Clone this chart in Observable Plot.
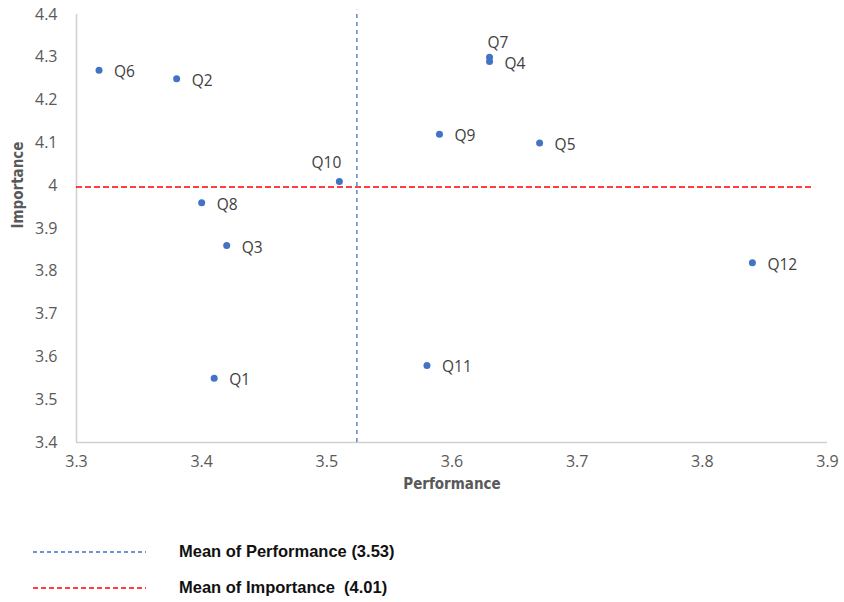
<!DOCTYPE html>
<html>
<head>
<meta charset="utf-8">
<script src="https://cdn.jsdelivr.net/npm/d3@7"></script>
<script src="https://cdn.jsdelivr.net/npm/@observablehq/plot@0.6"></script>
<style>
  body { margin: 0; background: #fff; font-family: "Liberation Sans", Arial, sans-serif; }
  #chart { width: 844px; height: 500px; }
  .legend { position: relative; height: 102px; }
  .row { position: absolute; left: 0; height: 20px; width: 844px; }
  .sample { position: absolute; left: 33px; top: 0; }
  .label { position: absolute; left: 179px; top: 0px; font-weight: bold; font-size: 16.5px; color: #111; white-space: pre; }
</style>
</head>
<body>
<div id="chart"></div>
<div class="legend" id="legend"></div>
<script>
const questions   = ["Q1","Q2","Q3","Q4","Q5","Q6","Q7","Q8","Q9","Q10","Q11","Q12"];
const performance = [3.41,3.38,3.42,3.63,3.67,3.318,3.63,3.40,3.59,3.51,3.58,3.84];
const importance  = [3.55,4.25,3.86,4.29,4.10,4.27,4.30,3.96,4.12,4.01,3.58,3.82];
const xTicks = [3.3,3.4,3.5,3.6,3.7,3.8,3.9];
const yTicks = [3.4,3.5,3.6,3.7,3.8,3.9,4,4.1,4.2,4.3,4.4];
const meanPerformanceLine = 3.524;
const meanImportanceLine = 3.997;
const legendLabels = ["Mean of Performance (3.53)", "Mean of Importance  (4.01)"];
const legendColors = ["#4472C4", "#FF0000"];
const legendDash = ["4,3", "5,3"];

const data = questions.map((q, i) => ({q, x: performance[i], y: importance[i]}));
const aboveLabels = ["Q7", "Q10"];
const labelFont = "'Open Sans', sans-serif";

const plot = Plot.plot({
  width: 844,
  height: 500,
  marginLeft: 76,
  marginRight: 17,
  marginTop: 14,
  marginBottom: 58,
  style: {fontFamily: "'Open Sans', sans-serif", fontSize: "16px", color: "#595959", background: "#fff"},
  x: {domain: [3.3, 3.9]},
  y: {domain: [3.4, 4.4]},
  marks: [
    Plot.axisX({ticks: xTicks, tickSize: 0, tickPadding: 13, tickFormat: d => String(d), label: null, fontSize: 16}),
    Plot.axisY({ticks: yTicks, tickSize: 0, tickPadding: 19, tickFormat: d => String(d), label: null, fontSize: 16}),
    Plot.text(["Performance"], {frameAnchor: "bottom", dy: 46, fontWeight: "bold", fontSize: 15, fill: "#595959", fontFamily: "'Liberation Sans Narrow', 'DejaVu Sans Condensed', sans-serif"}),
    Plot.text(["Importance"], {frameAnchor: "left", dx: -58, rotate: -90, fontWeight: "bold", fontSize: 15, fill: "#595959", fontFamily: "'Liberation Sans Narrow', 'DejaVu Sans Condensed', sans-serif"}),
    Plot.ruleX([3.3], {stroke: "#d0d0d0", strokeWidth: 1.5}),
    Plot.ruleY([3.4], {stroke: "#d0d0d0", strokeWidth: 1.5}),
    Plot.ruleX([meanPerformanceLine], {y1: 3.4, y2: 4.41, stroke: "#4472C4", strokeWidth: 1.3, strokeDasharray: "4,4"}),
    Plot.ruleY([meanImportanceLine], {x1: 3.3, x2: 3.889, stroke: "#FF0000", strokeWidth: 1.5, strokeDasharray: "6,3"}),
    Plot.dot(data, {x: "x", y: "y", r: 3.5, fill: "#4472C4", stroke: "none"}),
    Plot.text(data.filter(d => !aboveLabels.includes(d.q)), {x: "x", y: "y", text: "q", textAnchor: "start", dx: 15, dy: 2, fill: "#404040", fontSize: 15.5, fontFamily: labelFont}),
    Plot.text(data.filter(d => d.q === "Q7"), {x: "x", y: "y", text: "q", textAnchor: "start", dx: -2, dy: -14, fill: "#404040", fontSize: 15.5, fontFamily: labelFont}),
    Plot.text(data.filter(d => d.q === "Q10"), {x: "x", y: "y", text: "q", textAnchor: "middle", dx: -13, dy: -18, fill: "#404040", fontSize: 15.5, fontFamily: labelFont})
  ]
});
document.getElementById("chart").appendChild(plot);

const legend = document.getElementById("legend");
const ns = "http://www.w3.org/2000/svg";
legendLabels.forEach((lab, i) => {
  const row = document.createElement("div");
  row.className = "row";
  row.style.top = (42 + i * 36) + "px";
  const svg = document.createElementNS(ns, "svg");
  svg.setAttribute("class", "sample");
  svg.setAttribute("width", 115);
  svg.setAttribute("height", 20);
  const line = document.createElementNS(ns, "line");
  line.setAttribute("x1", 0); line.setAttribute("x2", 113);
  line.setAttribute("y1", 10); line.setAttribute("y2", 10);
  line.setAttribute("stroke", legendColors[i]);
  line.setAttribute("stroke-width", 1.3);
  line.setAttribute("stroke-dasharray", legendDash[i]);
  svg.appendChild(line);
  const t = document.createElement("div");
  t.className = "label";
  t.textContent = lab;
  row.appendChild(svg); row.appendChild(t);
  legend.appendChild(row);
});
</script>
</body>
</html>
